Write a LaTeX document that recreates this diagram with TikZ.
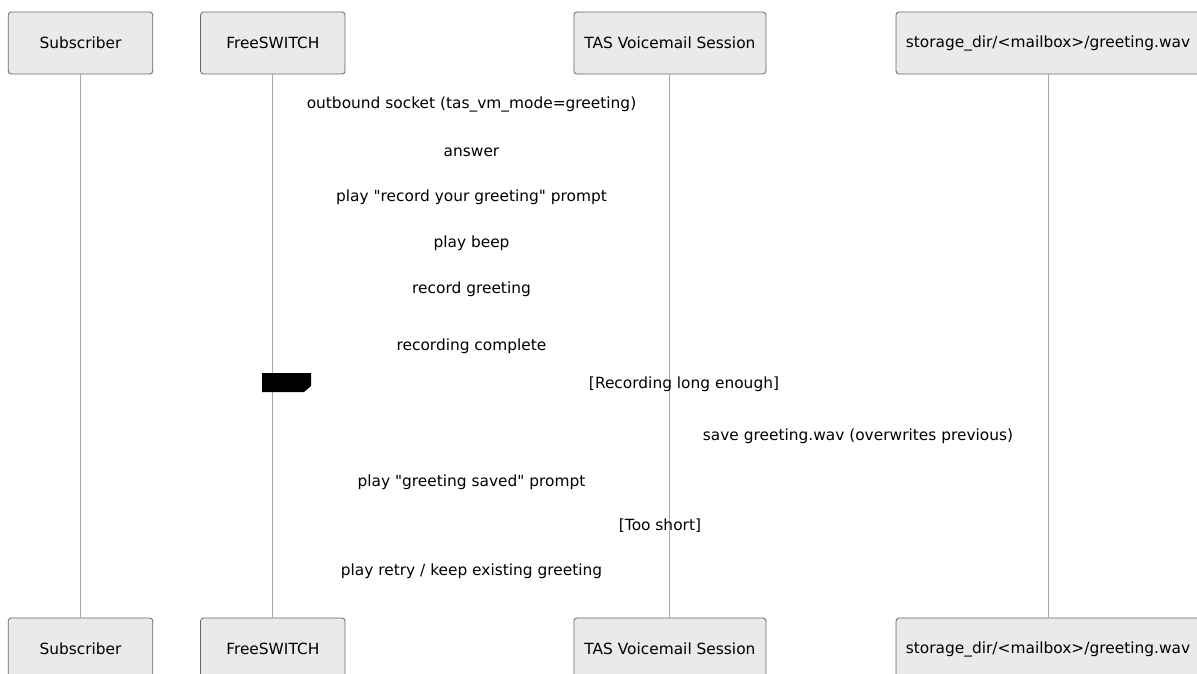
\documentclass[tikz,border=0pt]{standalone}
\usepackage{fontspec}
\setmainfont{DejaVu Sans}[Ligatures=TeXOff]
\definecolor{actorfill}{HTML}{EAEAEA}
\definecolor{actorline}{HTML}{666666}
\definecolor{lifegray}{HTML}{A8A8A8}
\begin{document}
\begin{tikzpicture}[x=1pt,y=-1pt,
  actor/.style={draw=actorline, fill=actorfill, rounded corners=3pt,
    line width=0.8pt, minimum height=62pt, inner sep=0pt,
    font=\fontsize{15.4}{18}\selectfont},
  lifeline/.style={draw=lifegray, line width=1pt},
  msg/.style={inner sep=0pt, font=\fontsize{15.4}{18}\selectfont},
]
\useasboundingbox (0,0) rectangle (1197,673);
\clip (0,0) rectangle (1197,673);

% participants, top row
\node[actor, minimum width=144.5pt] (subT) at (80.5,43)  {Subscriber};
\node[actor, minimum width=144.5pt] (fsT)  at (272.8,43) {FreeSWITCH};
\node[actor, minimum width=192pt]   (tasT) at (669.9,43) {TAS Voicemail Session};
\node[actor, minimum width=304pt]   (stT)  at (1048,43)  {storage\_dir/<mailbox>/greeting.wav};

% participants, bottom row
\node[actor, minimum width=144.5pt] (subB) at (80.5,649)  {Subscriber};
\node[actor, minimum width=144.5pt] (fsB)  at (272.8,649) {FreeSWITCH};
\node[actor, minimum width=192pt]   (tasB) at (669.9,649) {TAS Voicemail Session};
\node[actor, minimum width=304pt]   (stB)  at (1048,649)  {storage\_dir/<mailbox>/greeting.wav};

% lifelines
\draw[lifeline] (subT.south) -- (subB.north);
\draw[lifeline] (fsT.south)  -- (fsB.north);
\draw[lifeline] (tasT.south) -- (tasB.north);
\draw[lifeline] (stT.south)  -- (stB.north);

% alt label tab
\fill[black] (262,373) -- (311,373) -- (311,386) -- (304,392) -- (262,392) -- cycle;

% message texts
\node[msg] (m1)  at (471.5,104) {outbound socket (tas\_vm\_mode=greeting)};
\node[msg] (m2)  at (471.5,152) {answer};
\node[msg] (m3)  at (471.5,197) {play "record your greeting" prompt};
\node[msg] (m4)  at (471.5,243) {play beep};
\node[msg] (m5)  at (471.5,289) {record greeting};
\node[msg] (m6)  at (471.5,346) {recording complete};
\node[msg] (g1)  at (684,384)   {[Recording long enough]};
\node[msg] (m7)  at (858,436)   {save greeting.wav (overwrites previous)};
\node[msg] (m8)  at (471.5,482) {play "greeting saved" prompt};
\node[msg] (g2)  at (660,526)   {[Too short]};
\node[msg] (m9)  at (471.5,571) {play retry / keep existing greeting};
\end{tikzpicture}
\end{document}
